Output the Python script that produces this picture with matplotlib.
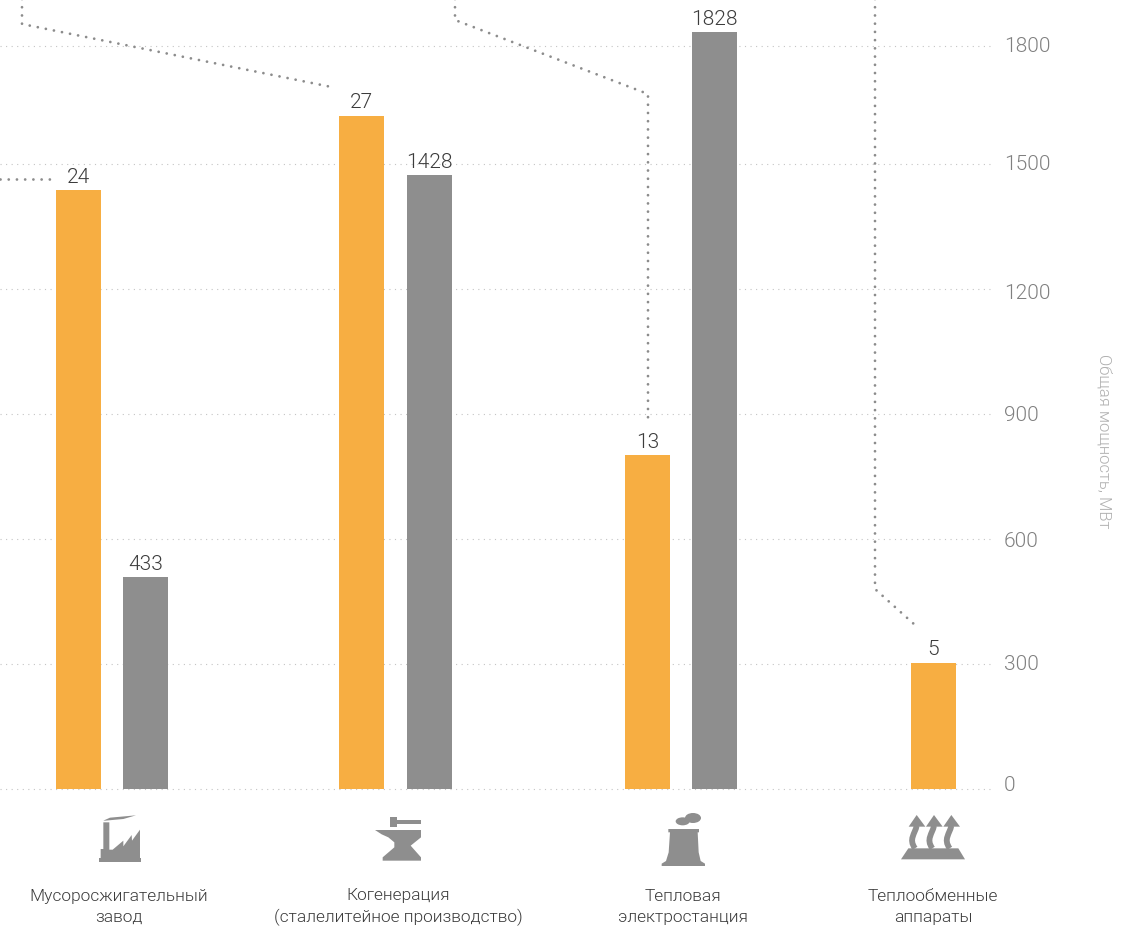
import matplotlib
matplotlib.use('Agg')
import matplotlib.pyplot as plt
from matplotlib.path import Path
from matplotlib.patches import PathPatch, Polygon, Ellipse
from matplotlib.transforms import ScaledTranslation

plt.rcParams['font.family'] = ['Roboto', 'DejaVu Sans']
plt.rcParams['font.weight'] = 300

# bar heights
orange_values = [1436, 1615, 800, 302]
gray_values = [507, 1472, 1815]
orange_labels = ['24', '27', '13', '5']
gray_labels = ['433', '1428', '1828']
categories = ['Мусоросжигательный\nзавод', 'Когенерация\n(сталелитейное производство)',
              'Тепловая\nэлектростанция', 'Теплообменные\nаппараты']
tick_values = [0, 300, 600, 900, 1200, 1500, 1783]
tick_labels = ['0', '300', '600', '900', '1200', '1500', '1800']
# the reference labels do not sit exactly on their gridlines (pixels, up is positive)
tick_nudge = [6, 2, 0, 1, -2, 2, 2]

orange_x = [78.5, 361.5, 647.5, 933.5]
gray_x = [145.5, 429.5, 714.5]
label_x = [119, 398, 683, 933]

ORANGE = '#f7ae42'
GRAY = '#8e8e8e'

W, H = 1145, 929
fig = plt.figure(figsize=(W / 100, H / 100), dpi=100, facecolor='white')

# chart axes, x runs in pixels, baseline at y=789.5
ax = fig.add_axes([0, (H - 789.5) / H, 990 / W, 789.5 / H])
ax.set_xlim(0, 990)
ax.set_ylim(0, 789.5 * 300 / 125)
for s in ax.spines.values():
    s.set_visible(False)
ax.xaxis.set_visible(False)
ax.yaxis.tick_right()
ax.set_yticks(tick_values)
ax.set_yticklabels(tick_labels, fontsize=15, color='#808080')
ax.tick_params(axis='y', length=0, pad=10)
ax.grid(axis='y', color='#c4c4c4', lw=0.8, linestyle=(0, (1, 4)))
ax.set_axisbelow(True)
for line in ax.get_ygridlines():
    line.set_clip_on(False)

for lab, dy in zip(ax.get_yticklabels(), tick_nudge):
    lab.set_transform(lab.get_transform() + ScaledTranslation(0, dy / 100, fig.dpi_scale_trans))

bars_o = ax.bar(orange_x, orange_values, width=45, color=ORANGE)
bars_g = ax.bar(gray_x, gray_values, width=45, color=GRAY)
ax.bar_label(bars_o, labels=orange_labels, padding=3, fontsize=15, color='#3c3c3c')
ax.bar_label(bars_g, labels=gray_labels, padding=3, fontsize=15, color='#3c3c3c')

# overlay in pixel coordinates for leaders, icons and captions
ov = fig.add_axes([0, 0, 1, 1])
ov.set_xlim(0, W)
ov.set_ylim(H, 0)
ov.axis('off')
ov.patch.set_alpha(0)

leaders = [
    ([22, 22, 334], [0, 25, 88.5]),
    ([0, 52], [180, 180]),
    ([455, 455, 648, 648], [0, 21, 95, 425]),
    ([875, 875, 915], [0, 590, 626]),
]
for xs, ys in leaders:
    ov.plot(xs, ys, color='#8c8c8c', lw=2.0, dash_capstyle='round',
            linestyle=(0, (0.01, 2.95)))

for x, text in zip(label_x, categories):
    ov.text(x, 907, text, ha='center', va='center', fontsize=12.5,
            color='#3c3c3c', linespacing=1.47)

ov.text(1104, 441, 'Общая мощность, МВт', rotation=270, ha='center', va='center',
        fontsize=12, color='#b0b0b0')


def poly(points, ox, oy):
    pts = [(ox + px / 3, oy + py / 3) for px, py in points]
    ov.add_patch(Polygon(pts, closed=True, fc=GRAY, ec='none'))


def curve(points, ox, oy, lw):
    pts = [(ox + px / 3, oy + py / 3) for px, py in points]
    codes = [Path.MOVETO] + [Path.CURVE4] * (len(pts) - 1)
    ov.add_patch(PathPatch(Path(pts, codes), fc='none', ec=GRAY, lw=lw, capstyle='butt'))


# factory
poly([(117, 207), (243, 207), (243, 218), (117, 218)], 60, 790)
poly([(130, 100), (148, 100), (148, 182), (158, 182), (190, 155), (190, 172), (215, 138),
      (216, 155), (240, 122), (240, 207), (122, 207), (122, 180), (130, 180)], 60, 790)
poly([(130, 95), (150, 86), (228, 79), (190, 90), (135, 95)], 60, 790)

# anvil and hammer
poly([(990, 85), (1012, 85), (1012, 93), (1083, 93), (1083, 105), (1012, 105), (1012, 115),
      (990, 115)], 60, 790)
poly([(945, 123), (1083, 123), (1083, 145), (1052, 170), (1083, 205), (1083, 215), (968, 215),
      (968, 205), (1003, 175), (1003, 160), (985, 145), (965, 136)], 60, 790)

# cooling tower
poly([(205, 120), (297, 120), (297, 130), (293, 130), (296, 190), (302, 216), (315, 224),
      (315, 231), (185, 231), (185, 224), (198, 216), (206, 190), (210, 130), (205, 130)], 600, 790)
ov.add_patch(Ellipse((600 + 248 / 3, 790 + 97 / 3), 42 / 3, 24 / 3, fc=GRAY, ec='none'))
ov.add_patch(Ellipse((600 + 279 / 3, 790 + 87 / 3), 48 / 3, 30 / 3, fc=GRAY, ec='none'))

# heat plate with three arrows
poly([(925, 178), (1075, 178), (1095, 211), (903, 211)], 600, 790)
for shift in [0, 52, 104]:
    curve([(950 + shift, 110), (945 + shift, 135), (925 + shift, 150), (945 + shift, 178)], 600, 790, 4.2)
    poly([(926 + shift, 113), (950 + shift, 78), (976 + shift, 113)], 600, 790)

fig.savefig('out.png', dpi=100, facecolor='white')
